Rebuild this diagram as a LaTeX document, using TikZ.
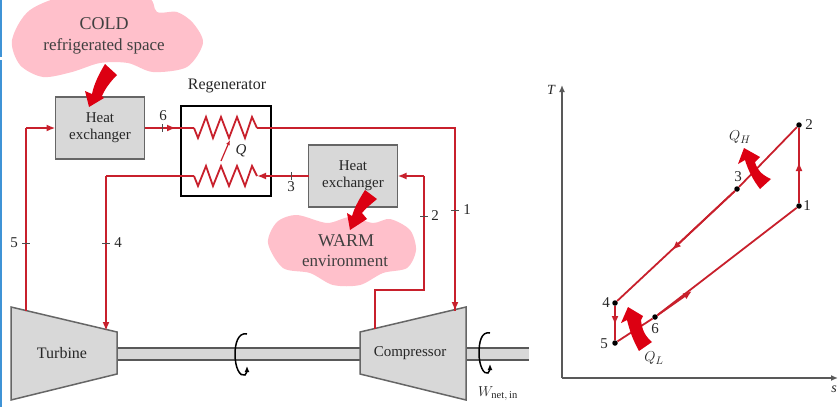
\documentclass[tikz,border=0pt]{standalone}
\usepackage{fontspec}
\setmainfont{Liberation Serif}
\usetikzlibrary{arrows.meta}
\definecolor{flowred}{HTML}{C8202C}
\definecolor{fatred}{HTML}{DC0012}
\definecolor{cloudpink}{HTML}{FFC0CB}
\definecolor{boxgray}{HTML}{D8D8D8}
\definecolor{textgray}{HTML}{404040}
\definecolor{stripblue}{HTML}{3F93D6}
\tikzset{
  flow/.style={flowred,line width=1.8pt},
  flowtip/.style={flow,-{Latex[length=9pt,width=7pt]}},
  hxbox/.style={draw=black!60,line width=1.5pt,fill=boxgray,minimum width=89pt,minimum height=62pt,align=center,inner sep=0pt,outer sep=0pt},
  machine/.style={draw=black!60,line width=1.5pt,fill=boxgray},
  tick/.style={black!70,line width=0.8pt},
  lbl/.style={text=black!85,inner sep=0pt,font=\fontsize{15}{17}\selectfont},
  cloudtxt/.style={text=textgray,inner sep=0pt,font=\fontsize{18}{20}\selectfont},
  cloud/.style={fill=cloudpink},
  fatarrow/.style={fill=fatred},
  spin/.style={black,line width=1.5pt,-{Latex[length=6pt,width=5pt]}},
  dot/.style={circle,fill=black,inner sep=0pt,minimum size=5.5pt},
  axisline/.style={black!65,line width=1.5pt,-{Latex[length=7pt,width=6pt]}}
}
\begin{document}
\begin{tikzpicture}[x=1pt,y=-1pt]
\useasboundingbox (0,0) rectangle (838,407);
\fill[stripblue] (0,0) rectangle (2,57);
\fill[stripblue] (0,60) rectangle (2,407);
% clouds
\fill[cloud] plot[smooth cycle,tension=0.5] coordinates {(12,40) (30,10) (75,-6) (145,-4) (157,12) (177,12) (193,23) (203,43) (187,67) (153,72) (128,63) (100,63) (72,72) (43,77) (20,65)};
\fill[cloud] plot[smooth cycle,tension=0.5] coordinates {(268,243) (277,222) (297,215) (327,223) (350,217) (373,223) (390,219) (410,230) (416,250) (407,268) (383,273) (360,285) (333,285) (310,273) (283,268)};
\node[cloudtxt] (cold) at (104,24) {COLD};
\node[cloudtxt,font=\fontsize{17}{20}\selectfont] (space) at (104,46) {refrigerated space};
\node[cloudtxt] (warm) at (346,241) {WARM};
\node[cloudtxt,font=\fontsize{17}{20}\selectfont] (env) at (345,261) {environment};
% boxes
\node[hxbox,lbl] (hxcold) at (100,128) {Heat\\exchanger};
\node[hxbox,lbl] (hxwarm) at (353,176) {Heat\\exchanger};
\node[draw=black,line width=2pt,minimum width=90pt,minimum height=90pt,outer sep=0pt] (regen) at (225.5,150.5) {};
\node[lbl,font=\fontsize{16}{18}\selectfont] (regenlbl) at (227,86) {Regenerator};
% turbine, compressor, shaft
\fill[boxgray] (117,348) rectangle (360,360);
\draw[black!65,line width=1.5pt] (117,348)--(360,348);
\draw[black!65,line width=1.5pt] (117,360)--(360,360);
\fill[boxgray] (466,348) rectangle (529,360);
\draw[black!65,line width=1.5pt] (466,348)--(529,348);
\draw[black!65,line width=1.5pt] (466,360)--(529,360);
\draw[machine] (11,307)--(117,332)--(117,374)--(11,400)--cycle;
\draw[machine] (360,332)--(466,307)--(466,400)--(360,374)--cycle;
\node[lbl,font=\fontsize{16}{18}\selectfont] (turbine) at (62,353) {Turbine};
\node[lbl] (compressor) at (410,353) {Compressor};
% points on the pipes
\coordinate (A) at (194,128);
\coordinate (B) at (257,128);
\coordinate (C) at (194,176);
\coordinate (D) at (257,176);
\coordinate (E) at (455,128);
\coordinate (F) at (455,311);
\coordinate (G) at (375,329);
\coordinate (H) at (375,290);
\coordinate (I) at (424,290);
\coordinate (J) at (424,176);
\coordinate (K) at (106,176);
\coordinate (L) at (106,331);
\coordinate (M) at (26,311);
\coordinate (N) at (26,128);
\draw[flow] (B)--(E)--(F);
\draw[flowtip] (E)--(F);
\draw[flow] (G)--(H)--(I)--(J);
\draw[flowtip] (J)--(hxwarm.east);
\draw[flowtip] (hxcold.east)--(176,128);
\draw[flow] (172,128)--(A);
\draw[flowtip] (hxwarm.west)--(D);
\draw[flow] (C)--(K);
\draw[flowtip] (K)--(L);
\draw[flow] (M)--(N);
\draw[flowtip] (N)--(hxcold.west);
% coils
\draw[flow] (A)--(198,138)--(206,117)--(213,138)--(221,117)--(229,138)--(237,117)--(245,138)--(252,117)--(B);
\draw[flow] (C)--(198,186)--(206,166)--(213,186)--(221,166)--(229,186)--(237,166)--(245,186)--(252,166)--(D);
\draw[flowred,line width=1.2pt,-{Latex[length=5pt,width=4pt]}] (221,161)--(230,140);
\node[lbl,font=\fontsize{15}{17}\selectfont\itshape] (q) at (241,151) {Q};
% ticks
\draw[tick] (162,124)--(162,132);
\draw[tick] (291,172)--(291,180);
\draw[tick] (22,243)--(30,243);
\draw[tick] (102,243)--(110,243);
\draw[tick] (420,216)--(428,216);
\draw[tick] (451,210)--(459,210);
\node[lbl] (six) at (163,116) {6};
\node[lbl] (three) at (291,187) {3};
\node[lbl] (five) at (14,243) {5};
\node[lbl] (four) at (118,243) {4};
\node[lbl] (two) at (435,216) {2};
\node[lbl] (one) at (467,210) {1};
% fat arrows
\fill[fatarrow] (105,64)--(117,75) .. controls (110,82) and (105,89) .. (102,96)--(104,98)--(89,107)--(85,91)--(92,94) .. controls (94,84) and (99,74) .. (105,64)--cycle;
\fill[fatarrow] (365,190)--(377,199) .. controls (370,205) and (365,209) .. (362,213)--(367,219)--(350,230)--(347,213)--(352,216) .. controls (355,206) and (360,198) .. (365,190)--cycle;
% shaft rotation
\draw[spin] (247,334) .. controls (238,332) and (235,344) .. (235,354) .. controls (235,368) and (240,377) .. (245,375) .. controls (246,374) and (247,371) .. (247,366);
\draw[spin] (490,333) .. controls (481,331) and (479,343) .. (479,353) .. controls (479,366) and (484,375) .. (488,373) .. controls (489,372) and (490,369) .. (490,364);
\node[lbl] (wnet) at (498,394) {$W_{\mathrm{net,\,in}}$};
% T-s diagram
\coordinate (O) at (562,378);
\coordinate (Tend) at (562,85);
\coordinate (Send) at (838,378);
\draw[axisline] (O)--(Tend);
\draw[axisline] (O)--(Send);
\node[lbl,font=\fontsize{14}{16}\selectfont\itshape] (tlbl) at (551,90) {T};
\node[lbl,font=\fontsize{14}{16}\selectfont\itshape] (slbl) at (834,389) {s};
\node[dot] (p1) at (799,206) {};
\node[dot] (p2) at (799,125) {};
\node[dot] (p3) at (737,189) {};
\node[dot] (p4) at (615,303) {};
\node[dot] (p5) at (615,343) {};
\node[dot] (p6) at (655,317) {};
\coordinate (P) at (799,162);
\coordinate (R) at (672,250);
\coordinate (S) at (615,325);
\coordinate (U) at (692,291);
\draw[flow] (p1)--(p2)--(p3)--(p4)--(p5)--(p6)--(p1);
\draw[flowtip] (p1)--(P);
\draw[flowtip] (p3)--(R);
\draw[flowtip] (p4)--(S);
\draw[flowtip] (p6)--(U);
\node[lbl] (lone) at (807,206) {1};
\node[lbl] (ltwo) at (809,125) {2};
\node[lbl] (lthree) at (738,177) {3};
\node[lbl] (lfour) at (606,303) {4};
\node[lbl] (lfive) at (604,344) {5};
\node[lbl] (lsix) at (655,329) {6};
\node[lbl] (qh) at (740,137) {$Q_H$};
\node[lbl] (ql) at (654,358) {$Q_L$};
\fill[fatarrow] (744,148)--(760,157)--(755,162) .. controls (757,170) and (762,175) .. (771,179)--(760,189) .. controls (753,180) and (748,170) .. (745,160)--(738,164)--cycle;
\fill[fatarrow] (628,307)--(643,316)--(641,320) .. controls (642,330) and (645,336) .. (652,342)--(639,351) .. controls (633,340) and (630,332) .. (627,320)--(621,323)--cycle;
\end{tikzpicture}
\end{document}
